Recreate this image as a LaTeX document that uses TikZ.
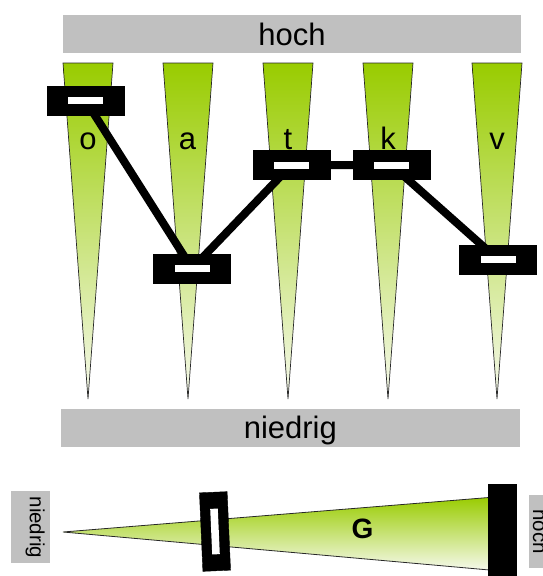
\documentclass[tikz,border=0pt]{standalone}
\usepackage{fontspec}
\setmainfont{Liberation Sans}
\definecolor{barGrey}{RGB}{192,192,192}
\definecolor{topGreen}{RGB}{153,204,0}
\definecolor{paleGreen}{RGB}{246,249,237}
\definecolor{edgeGrey}{RGB}{40,40,40}
\begin{document}
\begin{tikzpicture}[x=1pt,y=-1pt,
  greybar/.style={fill=barGrey,inner sep=0pt,outer sep=0pt},
  wedge/.style={top color=topGreen,bottom color=paleGreen,draw=edgeGrey,line width=0.7pt},
  slider/.style={fill=black,draw=black,minimum width=77pt,minimum height=29pt,inner sep=0pt,outer sep=0pt,
    path picture={\fill[white] ([xshift=-17.5pt,yshift=-3.5pt]path picture bounding box.center) rectangle ([xshift=17.5pt,yshift=3.5pt]path picture bounding box.center);}},
  link/.style={line width=8pt,black},
  bigtxt/.style={font=\fontsize{31}{37}\selectfont,inner sep=0pt,anchor=base},
  sidetxt/.style={inner sep=0pt,font=\fontsize{20.5}{24}\selectfont,rotate=-90,anchor=base}
]
\useasboundingbox (0,0) rectangle (543,576);
\clip (0,0) rectangle (543,576);
% top and bottom bars
\fill[barGrey] (63,15) rectangle (521,52.5);
\node[bigtxt] (hoch) at (292,45) {hoch};
\fill[barGrey] (60.7,409) rectangle (520,446.7);
\node[bigtxt] (niedrig) at (290.3,438.3) {niedrig};
% wedges
\foreach \c in {88,188,288,388,497}{
  \path[wedge] (\c-25,63) -- (\c+25,63) -- (\c,399) -- cycle;
}
% letters
\node[bigtxt] (lo) at (88,149) {o};
\node[bigtxt] (la) at (187.5,149) {a};
\node[bigtxt] (lt) at (288,149) {t};
\node[bigtxt] (lk) at (388,149) {k};
\node[bigtxt] (lv) at (497,149) {v};
% sliders positions
\coordinate (po) at (85.5,100.5);
\coordinate (pa) at (192,268.5);
\coordinate (pt) at (291.5,165);
\coordinate (pk) at (391.5,165);
\coordinate (pv) at (498,259.5);
\draw[link] (po) -- (pa) -- (pt) -- (pk) -- (pv);
\node[slider] (so) at (po) {};
\node[slider] (sa) at (pa) {};
\node[slider] (st) at (pt) {};
\node[slider] (sk) at (pk) {};
\node[slider] (sv) at (pv) {};
% bottom gauge
\path[top color=topGreen,bottom color=paleGreen,draw=edgeGrey,line width=0.8pt]
  (63,532) -- (495,497) -- (495,570.5) -- cycle;
\node[font=\bfseries\fontsize{28}{33}\selectfont,inner sep=0pt] (G) at (362.5,528.7) {G};
\node[fill=black,draw=black,minimum width=27.7pt,minimum height=78.6pt,inner sep=0pt,rotate=2.5,
  path picture={\fill[white] ([xshift=-3.8pt,yshift=-22.8pt]path picture bounding box.center) rectangle ([xshift=3.8pt,yshift=22.8pt]path picture bounding box.center);}]
  (mid) at (215,531.5) {};
\fill[black] (487.5,484) rectangle (516.6,580);
% side labels
\fill[barGrey] (11,491) rectangle (50,563);
\node[sidetxt] (ln) at (30,527.4) {niedrig};
\fill[barGrey] (529,495) rectangle (568,568);
\node[sidetxt] (lh) at (533,531.5) {hoch};
\end{tikzpicture}
\end{document}
